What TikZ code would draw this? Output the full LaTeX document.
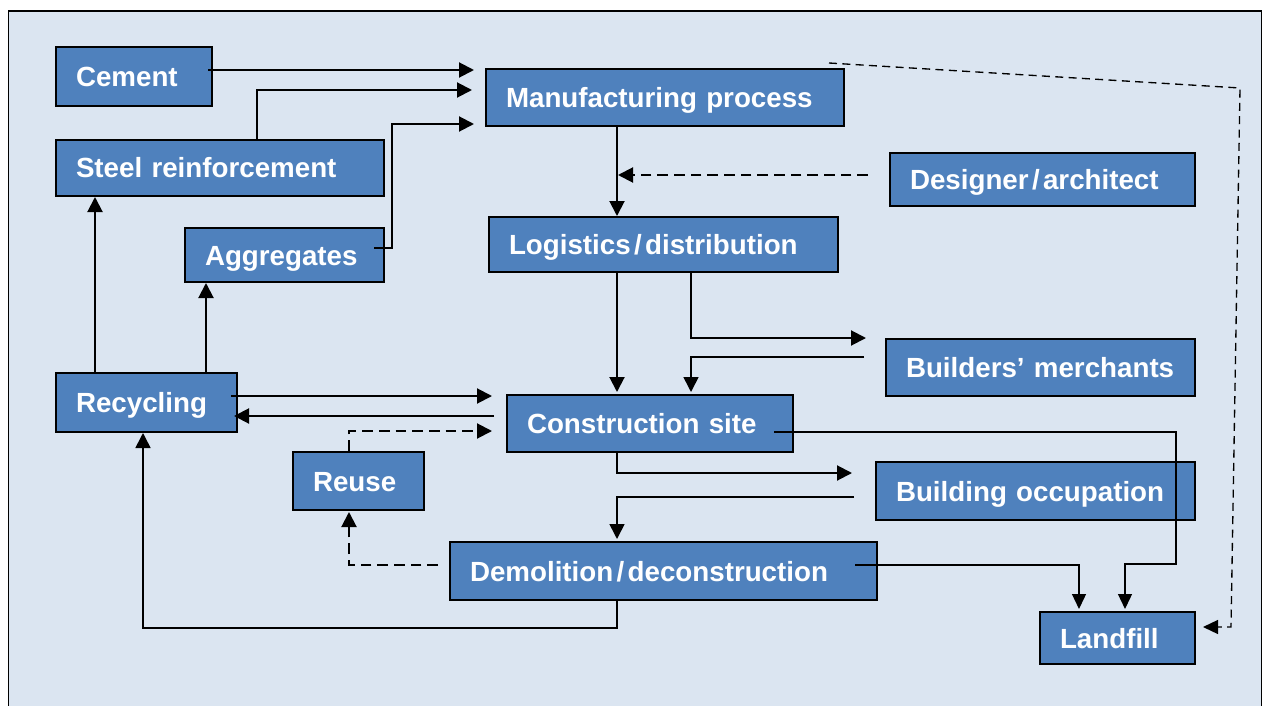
\documentclass[tikz,border=0pt]{standalone}
\usepackage{fontspec}
\setmainfont{Liberation Sans}
\usetikzlibrary{arrows.meta,calc}
\definecolor{boxblue}{HTML}{4F81BD}
\definecolor{bgblue}{HTML}{DBE5F1}
\newcommand\mybox[6]{%
  \pgfmathsetmacro\mbw{(#4-#2)*0.75}%
  \pgfmathsetmacro\mbh{(#5-#3)*0.75}%
  \pgfmathsetmacro\mbt{(#4-#2-40)*0.75}%
  \node[box, minimum width=\mbw pt, minimum height=\mbh pt, text width=\mbt pt] (#1) at ({(#2+#4)/2},{(#3+#5)/2}) {#6};}
\newcommand\slh{\kern2.5pt/\kern2.5pt}
\begin{document}
\begin{tikzpicture}[x=0.75pt,y=-0.75pt,
  box/.style={draw=black, fill=boxblue, line width=1.5pt, text=white,
    font=\fontsize{20.8}{24}\selectfont\bfseries, inner xsep=15pt, inner ysep=0pt,
    text height=15pt, text depth=0pt, align=left},
  arr/.style={-{Triangle[length=11.25pt,width=11.25pt]}, line width=1.5pt},
  arrmid/.style={-{Triangle[length=11.25pt,width=11.25pt]}, line width=1.2pt},
  arrthin/.style={-{Triangle[length=11.25pt,width=10.5pt]}, line width=1pt},
  dashline/.style={dash pattern=on 8pt off 4.5pt},
  dashthin/.style={dash pattern=on 6pt off 4pt}]
\useasboundingbox (0,0) rectangle (1263,706);
\fill[white] (0,0) rectangle (1263,706);
\draw[line width=1pt, fill=bgblue] (8.5,11) rectangle (1261.5,720);

\mybox{cement}{56}{47}{212}{106}{Cement}
\mybox{steel}{56}{140}{384}{196}{Steel reinforcement}
\mybox{agg}{185}{228}{384}{282}{Aggregates}
\mybox{manuf}{486}{69}{844}{126}{Manufacturing process}
\mybox{logi}{489}{217}{838}{272}{Logistics\slh distribution}
\mybox{design}{890}{153}{1195}{206}{Designer\slh architect}
\mybox{build}{886}{339}{1195}{396}{Builders’ merchants}
\mybox{recyc}{56}{373}{237}{432}{Recycling}
\mybox{cons}{507}{395}{793}{452}{Construction site}
\mybox{reuse}{293}{452}{424}{510}{Reuse}
\mybox{occ}{876}{462}{1195}{520}{Building occupation}
\mybox{demo}{450}{542}{877}{600}{Demolition\slh deconstruction}
\mybox{land}{1040}{612}{1195}{664}{Landfill}

% inputs to manufacturing
\draw[arr] ($(cement.east)+(-5,-6.5)$) -- ($(manuf.west)+(-11,-27.5)$);
\draw[arr] ($(steel.north)+(37,0)$) |- ($(manuf.west)+(-13,-7.5)$);
\draw[arr] ($(agg.east)+(-11,-7)$) -- ++(18,0) |- ($(manuf.west)+(-11,26.5)$);

% manufacturing -> logistics, designer
\coordinate (mx) at ($(manuf.south)+(-48,0)$);
\draw[arr] (mx) -- (mx |- logi.north);
\coordinate (dz) at ($(design.west)+(-21,-4.5)$);
\draw[arr,dashline] (dz) -- ($(dz -| mx)+(1,0)$);

% logistics -> construction, builders
\coordinate (lx) at ($(logi.south)+(-46.5,0)$);
\coordinate (lx2) at ($(logi.south)+(27.5,0)$);
\draw[arr] (lx) -- ($(lx |- cons.north)+(0,-2)$);
\draw[arr] (lx2) |- ($(build.west)+(-19,-29.5)$);
\draw[arrmid] ($(build.west)+(-21,-10.5)$) -| ($(lx2 |- cons.north)+(0,-2)$);

% recycling <-> construction, reuse
\draw[arr] ($(recyc.east)+(-7,-6.5)$) -- ($(cons.west)+(-14,-27.5)$);
\draw[arr] ($(cons.west)+(-12,-7.5)$) -- ($(recyc.east)+(-4,13.5)$);
\draw[arr,dashline] ($(reuse.north)+(-9.5,0)$) |- ($(cons.west)+(-14,7.5)$);

% recycling -> steel, aggregates
\coordinate (r1) at ($(recyc.north)+(-51.5,0)$);
\coordinate (r2) at ($(recyc.north)+(59.5,0)$);
\draw[arr] (r1) -- (r1 |- steel.south);
\draw[arr] (r2) -- (r2 |- agg.south);

% construction -> occupation -> demolition
\draw[arr] ($(cons.south)+(-33,0)$) |- ($(occ.west)+(-23,-18)$);
\draw[arrmid] ($(occ.west)+(-21,6)$) -| ($(mx |- demo.north)+(0,-2)$);

% demolition -> reuse, recycling
\draw[arr,dashline] ($(demo.west)+(-11,-6)$) -| ($(reuse.south)+(-9.5,1)$);
\draw[arrmid] ($(demo.south)+(-46.5,0)$) -- ++(0,27) -| ($(recyc.south)+(-3.5,0)$);

% to landfill
\draw[arrthin] ($(cons.east)+(-20,8.5)$) -| ($(land.north)+(58.5,-47)$) -| ($(land.north)+(7.5,-2)$);
\draw[arrthin] ($(demo.east)+(-23,-6)$) -| ($(land.north)+(-38.5,-2)$);
\draw[arrthin,dashthin] ($(manuf.north east)+(-16,-5)$) -- (1240,88) -- (1231,627) -- ($(land.east)+(7,-11)$);
\end{tikzpicture}
\end{document}
